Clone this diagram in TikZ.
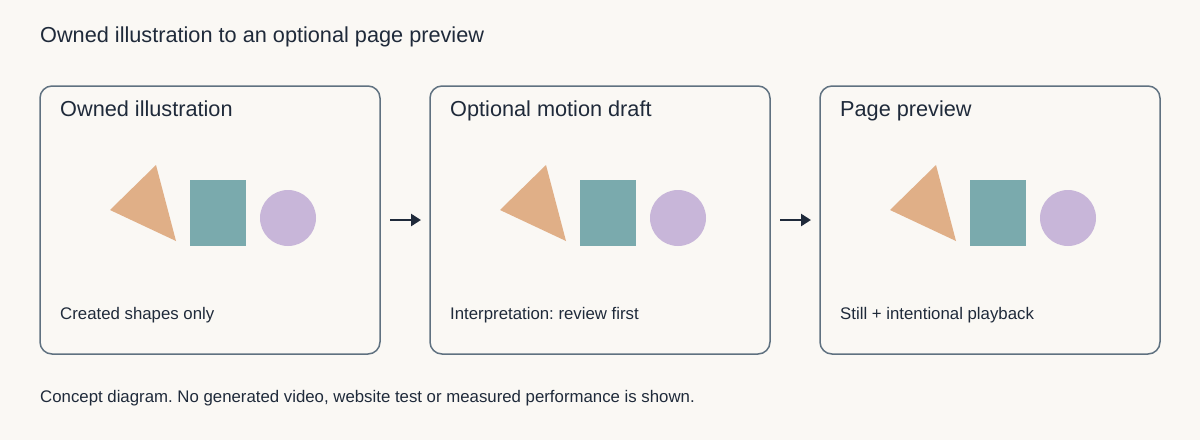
\documentclass[tikz,border=0pt]{standalone}
\usepackage{fontspec}
\setmainfont{Liberation Sans}
\usetikzlibrary{arrows.meta}
\definecolor{bg}{HTML}{FAF8F4}
\definecolor{ink}{HTML}{1F2A3A}
\definecolor{frame}{HTML}{5F7180}
\definecolor{tri}{HTML}{E0AF87}
\definecolor{sq}{HTML}{7AAAAD}
\definecolor{circ}{HTML}{C8B6D9}
\tikzset{
  panel/.style={draw=frame, line width=1.5pt, rounded corners=12pt, fill=bg},
  ptitle/.style={anchor=base west, inner sep=0pt, text=ink, font=\fontsize{21.7}{26}\selectfont},
  pbody/.style={anchor=base west, inner sep=0pt, text=ink, font=\fontsize{16.8}{20}\selectfont},
  pfoot/.style={anchor=base west, inner sep=0pt, text=ink, font=\fontsize{16.8}{20}\selectfont},
  flow/.style={draw=ink, line width=2.5pt, -{Triangle[length=10pt,width=12pt]}}
}
\frenchspacing
\begin{document}
\begin{tikzpicture}[x=1pt,y=-1pt]
\fill[bg] (0,0) rectangle (1200,440);
\useasboundingbox (0,0) rectangle (1200,440);
\node[ptitle] (title) at (40,42) {Owned illustration to an optional page preview};
\foreach \i/\t/\b in {0/Owned illustration/Created shapes only, 1/Optional motion draft/Interpretation: review first, 2/Page preview/Still + intentional playback}{
  \begin{scope}[xshift=\i*390]
    \draw[panel] (40,86) rectangle (380,354);
    \node[ptitle] (t\i) at (60,116) {\t};
    \node[pbody] (b\i) at (60,319) {\b};
    \fill[tri] (110,210) -- (156,165) -- (176,241) -- cycle;
    \fill[sq] (190,180) rectangle (246,246);
    \fill[circ] (288,218) circle (28);
  \end{scope}
}
\coordinate (a0s) at (390,220);
\coordinate (a0e) at (421,220);
\coordinate (a1s) at (780,220);
\coordinate (a1e) at (811,220);
\draw[flow] (a0s) -- (a0e);
\draw[flow] (a1s) -- (a1e);
\node[pfoot] (foot) at (40,402) {Concept diagram. No generated video, website test or measured performance is shown.};
\end{tikzpicture}
\end{document}
